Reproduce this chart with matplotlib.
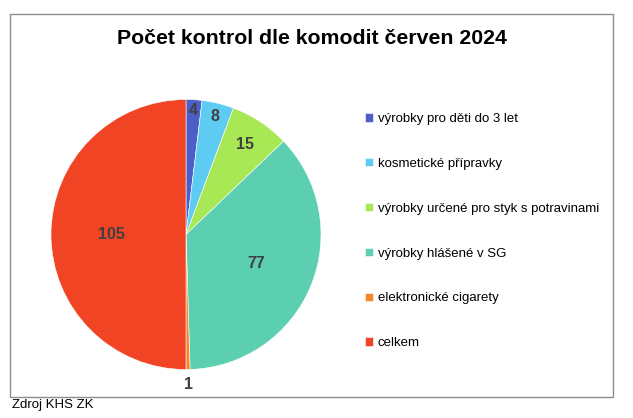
import matplotlib
matplotlib.use("Agg")
import matplotlib.pyplot as plt
from matplotlib.patches import Rectangle
import numpy as np

categories = ["výrobky pro děti do 3 let", "kosmetické přípravky",
              "výrobky určené pro styk s potravinami", "výrobky hlášené v SG",
              "elektronické cigarety", "celkem"]
values = [4, 8, 15, 77, 1, 105]
colors = ["#4E5EC8", "#5ECBF2", "#A9E855", "#5DCFB1", "#F5872A", "#F04424"]
label_radius = [0.92, 0.90, 0.80, 0.56, 1.11, 0.55]

plt.rcParams['font.family'] = ['Liberation Sans', 'DejaVu Sans']

W, H = 633, 418
fig = plt.figure(figsize=(W / 100, H / 100), dpi=100)

# frame
fig.patches.append(Rectangle((10 / W, 1 - 397 / H), 603 / W, 383 / H,
                             transform=fig.transFigure, fill=False,
                             edgecolor="#8C8C8C", linewidth=1.0))

cx, cy, R = 186, 234.5, 135
half = 150
ax = fig.add_axes([(cx - half) / W, 1 - (cy + half) / H, 2 * half / W, 2 * half / H])

wedges, _ = ax.pie(values, colors=colors, startangle=90, counterclock=False,
                   radius=1.0, wedgeprops=dict(edgecolor="white", linewidth=0.4))
lim = half / R
ax.set_xlim(-lim, lim)
ax.set_ylim(-lim, lim)
ax.set_aspect("equal")
ax.axis("off")

for w, v, r in zip(wedges, values, label_radius):
    ang = np.deg2rad((w.theta1 + w.theta2) / 2)
    ax.text(r * np.cos(ang), r * np.sin(ang), str(v), ha="center", va="center",
            fontsize=11.5, fontweight="bold", color="#404040")

fig.text(312 / W, 1 - 38 / H, "Počet kontrol dle komodit červen 2024",
         ha="center", va="center", fontsize=15.3, fontweight="bold", color="black")

leg = fig.legend(wedges, categories, loc="upper left",
                 bbox_to_anchor=(365 / W, 1 - 113 / H), frameon=False,
                 fontsize=9.5, labelspacing=2.49, handlelength=0.6, handleheight=0.6,
                 handletextpad=0.35, borderaxespad=0, borderpad=0)

fig.text(12 / W, 1 - 405 / H, "Zdroj KHS ZK", ha="left", va="center",
         fontsize=9.5, color="black")

fig.savefig("out.png", dpi=100)
